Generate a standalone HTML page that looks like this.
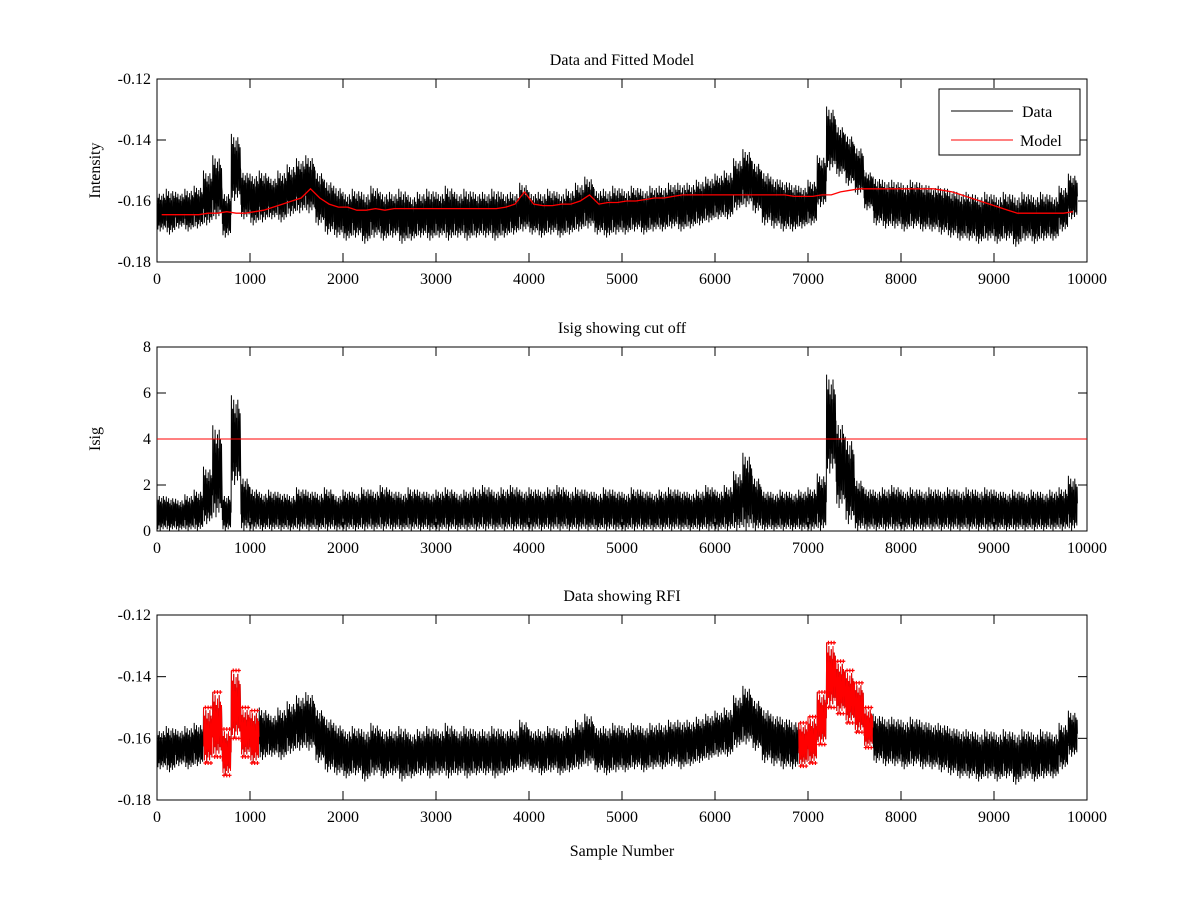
<!DOCTYPE html>
<html><head><meta charset="utf-8"><style>
body{margin:0;background:#fff;}
svg text{font-family:"Liberation Serif",serif;font-size:16px;fill:#000;}
</style></head><body>
<svg id="fig" width="1200" height="900" xmlns="http://www.w3.org/2000/svg"></svg>
<script>
// bins of 100 samples, centers at i*100+50, 0..9850
const dataHi=[-0.157,-0.156,-0.157,-0.156,-0.155,-0.150,-0.145,-0.157,-0.138,-0.150,
-0.151,-0.150,-0.152,-0.150,-0.148,-0.146,-0.145,-0.150,-0.153,-0.155,
-0.157,-0.156,-0.157,-0.155,-0.157,-0.157,-0.156,-0.158,-0.157,-0.156,
-0.157,-0.155,-0.157,-0.156,-0.157,-0.157,-0.156,-0.157,-0.157,-0.154,
-0.157,-0.157,-0.156,-0.157,-0.156,-0.154,-0.152,-0.156,-0.156,-0.155,
-0.156,-0.155,-0.156,-0.155,-0.155,-0.154,-0.154,-0.154,-0.153,-0.152,
-0.151,-0.150,-0.146,-0.143,-0.147,-0.150,-0.152,-0.153,-0.154,-0.155,
-0.153,-0.145,-0.129,-0.135,-0.138,-0.142,-0.150,-0.152,-0.153,-0.153,
-0.154,-0.153,-0.154,-0.155,-0.155,-0.156,-0.157,-0.157,-0.158,-0.157,
-0.158,-0.157,-0.158,-0.157,-0.158,-0.157,-0.158,-0.155,-0.151];
const dataLo=[-0.170,-0.171,-0.169,-0.170,-0.169,-0.168,-0.166,-0.172,-0.160,-0.166,
-0.168,-0.167,-0.166,-0.167,-0.165,-0.164,-0.164,-0.168,-0.171,-0.172,
-0.173,-0.172,-0.174,-0.172,-0.173,-0.172,-0.174,-0.173,-0.172,-0.173,
-0.172,-0.173,-0.172,-0.173,-0.172,-0.172,-0.173,-0.172,-0.171,-0.170,
-0.171,-0.172,-0.171,-0.172,-0.171,-0.170,-0.169,-0.171,-0.172,-0.171,
-0.171,-0.170,-0.171,-0.170,-0.170,-0.169,-0.170,-0.169,-0.168,-0.167,
-0.166,-0.166,-0.163,-0.162,-0.164,-0.168,-0.169,-0.170,-0.170,-0.169,
-0.168,-0.162,-0.150,-0.152,-0.155,-0.158,-0.163,-0.168,-0.169,-0.169,
-0.170,-0.169,-0.170,-0.170,-0.171,-0.172,-0.173,-0.173,-0.174,-0.173,
-0.174,-0.173,-0.175,-0.173,-0.174,-0.173,-0.173,-0.170,-0.166];
const modelVals=[-0.1645,-0.1645,-0.1645,-0.1645,-0.1645,-0.164,-0.164,-0.1635,-0.164,-0.164,
-0.1635,-0.163,-0.162,-0.161,-0.160,-0.159,-0.156,-0.159,-0.161,-0.162,
-0.162,-0.163,-0.163,-0.1625,-0.163,-0.1625,-0.1625,-0.1625,-0.1625,-0.1625,
-0.1625,-0.1625,-0.1625,-0.1625,-0.1625,-0.1625,-0.1625,-0.162,-0.161,-0.157,
-0.161,-0.1615,-0.1615,-0.161,-0.161,-0.160,-0.158,-0.161,-0.1605,-0.1605,
-0.160,-0.160,-0.1595,-0.159,-0.159,-0.1585,-0.158,-0.158,-0.158,-0.158,
-0.158,-0.158,-0.158,-0.158,-0.158,-0.158,-0.158,-0.158,-0.1585,-0.1585,
-0.1585,-0.158,-0.158,-0.157,-0.1565,-0.156,-0.156,-0.156,-0.156,-0.156,
-0.156,-0.156,-0.156,-0.156,-0.1565,-0.157,-0.158,-0.159,-0.160,-0.161,
-0.162,-0.163,-0.164,-0.164,-0.164,-0.164,-0.164,-0.164,-0.1635];
const isigHi=[1.6,1.5,1.4,1.6,1.8,2.8,4.6,1.6,5.9,2.4,
1.9,1.7,1.8,1.7,1.6,1.9,1.8,1.7,1.9,1.6,
1.8,1.7,1.9,1.8,2.0,1.8,1.7,1.9,1.8,1.7,
1.8,1.9,1.7,1.8,1.9,2.0,1.8,1.9,2.0,1.8,
1.9,1.8,1.9,2.0,1.8,1.9,1.8,1.7,1.9,1.8,
1.7,1.9,1.8,1.7,1.8,1.9,1.8,1.7,1.8,2.0,
1.8,2.0,2.6,3.4,2.4,1.8,1.7,1.8,1.7,1.8,
1.9,2.5,6.8,4.8,4.1,2.3,1.9,1.8,1.9,2.0,
1.8,1.9,1.8,1.9,1.8,1.9,1.8,1.9,1.8,1.9,
1.8,1.7,1.8,1.7,1.8,1.7,1.8,1.9,2.4];
const isigLo=[0,0,0,0,0,0.3,0.6,0,2.0,0,
0,0,0,0,0,0,0,0,0,0,0,0,0,0,0,0,0,0,0,0,0,0,0,0,0,0,0,0,0,0,
0,0,0,0,0,0,0,0,0,0,0,0,0,0,0,0,0,0,0,0,0,0,0,0,0,0,0,0,0,0,
0,0,2.5,1.0,0.3,0,0,0,0,0,0,0,0,0,0,0,0,0,0,0,0,0,0,0,0,0,0,0,0];
const rfiBins=[5,6,7,8,9,10,69,70,71,72,73,74,75,76];
const xTicks=[0,1000,2000,3000,4000,5000,6000,7000,8000,9000,10000];
const yTicksI=[-0.18,-0.16,-0.14,-0.12];
const yTicksS=[0,2,4,6,8];
const threshold=4;

const NS='http://www.w3.org/2000/svg';
const svg=document.getElementById('fig');
function mk(tag,attrs,parent){const e=document.createElementNS(NS,tag);for(const k in attrs)e.setAttribute(k,attrs[k]);(parent||svg).appendChild(e);return e;}
const X0=157,X1=1087;
function xs(v){return X0+(v/10000)*(X1-X0);}
function makeY(top,bot,lo,hi){return v=>bot-(v-lo)/(hi-lo)*(bot-top);}
// rendering texture (fraction of band trimmed at each stroke) - styling only
const TOPCUT=[0,0.35,0.15,0.5,0.05,0.3,0.2,0.45,0.1,0.25,0.4,0.05,0.3,0.15,0.5,0.2];
const BOTCUT=[0.3,0.05,0.4,0.15,0.25,0,0.45,0.1,0.35,0.2,0.05,0.4,0.15,0.3,0.1,0.5];

function frame(g,top,bot,ys,yticks,fmt,title,ylabel,name){
  const r=mk('rect',{x:X0,y:top,width:X1-X0,height:bot-top,fill:'none',stroke:'#000','stroke-width':1},g);
  
  
  xTicks.forEach(t=>{const x=xs(t);
    mk('line',{x1:x,x2:x,y1:bot,y2:bot-9,stroke:'#000'},g);
    mk('line',{x1:x,x2:x,y1:top,y2:top+9,stroke:'#000'},g);
    const tx=mk('text',{x:x,y:bot+22,'text-anchor':'middle'},g);tx.textContent=t;
    
    
  });
  yticks.forEach(t=>{const y=ys(t);
    mk('line',{x1:X0,x2:X0+9,y1:y,y2:y,stroke:'#000'},g);
    mk('line',{x1:X1,x2:X1-9,y1:y,y2:y,stroke:'#000'},g);
    const tx=mk('text',{x:X0-6,y:y+5,'text-anchor':'end'},g);tx.textContent=fmt(t);
    
    
  });
  const tt=mk('text',{x:(X0+X1)/2,y:top-14,'text-anchor':'middle'},g);tt.textContent=title;
  
  
  if(ylabel){const yl=mk('text',{x:0,y:0,'text-anchor':'middle',transform:`translate(100,${(top+bot)/2}) rotate(-90)`},g);yl.textContent=ylabel;
    
    }
}
function band(g,hi,lo,ys,color,bins,name){
  let d='';
  const idx=bins||hi.map((_,i)=>i);
  let prev=-2;
  idx.forEach(i=>{
    const N=16, x0=xs(i*100), step=(xs(100)-xs(0))/N;
    for(let k=0;k<N;k++){
      const span=hi[i]-lo[i];
      const x=x0+k*step;
      const yh=ys(hi[i]-span*TOPCUT[k]), yl=ys(lo[i]+span*BOTCUT[k]);
      d+=((k===0&&i!==prev+1)?'M':'L')+x.toFixed(1)+','+yh.toFixed(1)+'L'+(x+step/2).toFixed(1)+','+yl.toFixed(1);
    }
    prev=i;
  });
  const p=mk('path',{d:d,fill:'none',stroke:color,'stroke-width':1},g);
  
  
  return p;
}
function fmtI(t){return t.toFixed(2).replace('0.','.').replace('-.','-0.');}
function grp(name){const g=mk('g',{});return g;}

// Plot 1
const y1=makeY(79,262,-0.18,-0.12);
const g1=grp('data-fitted-model-plot');
frame(g1,79,262,y1,yTicksI,fmtI,'Data and Fitted Model','Intensity','plot1');
band(g1,dataHi,dataLo,y1,'#000',null,'data-series');
let md='';modelVals.forEach((v,i)=>{md+=(i?'L':'M')+xs(i*100+50).toFixed(1)+','+y1(v).toFixed(1);});
const mp=mk('path',{d:md,fill:'none',stroke:'#f00','stroke-width':1.3},g1);


const leg=mk('g',{},g1);


mk('rect',{x:939,y:89,width:141,height:66,fill:'#fff',stroke:'#000'},leg);
const l1=mk('line',{x1:951,x2:1013,y1:111,y2:111,stroke:'#000'},leg);


const t1=mk('text',{x:1022,y:117},leg);t1.textContent='Data';
const l2=mk('line',{x1:951,x2:1013,y1:140,y2:140,stroke:'#f00'},leg);


const t2=mk('text',{x:1020,y:146},leg);t2.textContent='Model';

// Plot 2
const y2=makeY(347,531,0,8);
const g2=grp('isig-plot');
frame(g2,347,531,y2,yTicksS,t=>t,'Isig showing cut off','Isig','plot2');
band(g2,isigHi,isigLo,y2,'#000',null,'isig-series');
const th=mk('line',{x1:X0,x2:X1,y1:y2(threshold),y2:y2(threshold),stroke:'#f00','stroke-width':1},g2);



// Plot 3
const y3=makeY(615,800,-0.18,-0.12);
const g3=grp('rfi-plot');
frame(g3,615,800,y3,yTicksI,fmtI,'Data showing RFI',null,'plot3');
band(g3,dataHi,dataLo,y3,'#000',null,'data-series-rfi-plot');
band(g3,dataHi,dataLo,y3,'#f00',rfiBins,'rfi-points');
rfiBins.forEach(i=>{
  [0.2,0.5,0.8].forEach(f=>{
    const x=xs(i*100+f*100);
    [dataHi[i],dataLo[i]].forEach(v=>{
      const y=y3(v);
      const m=mk('path',{d:`M${x-2},${y}h4M${x},${y-2}v4`,stroke:'#f00','stroke-width':1.2},g3);
      
      
    });
  });
});
const xl=mk('text',{x:(X0+X1)/2,y:856,'text-anchor':'middle'});xl.textContent='Sample Number';


</script>
</body></html>
